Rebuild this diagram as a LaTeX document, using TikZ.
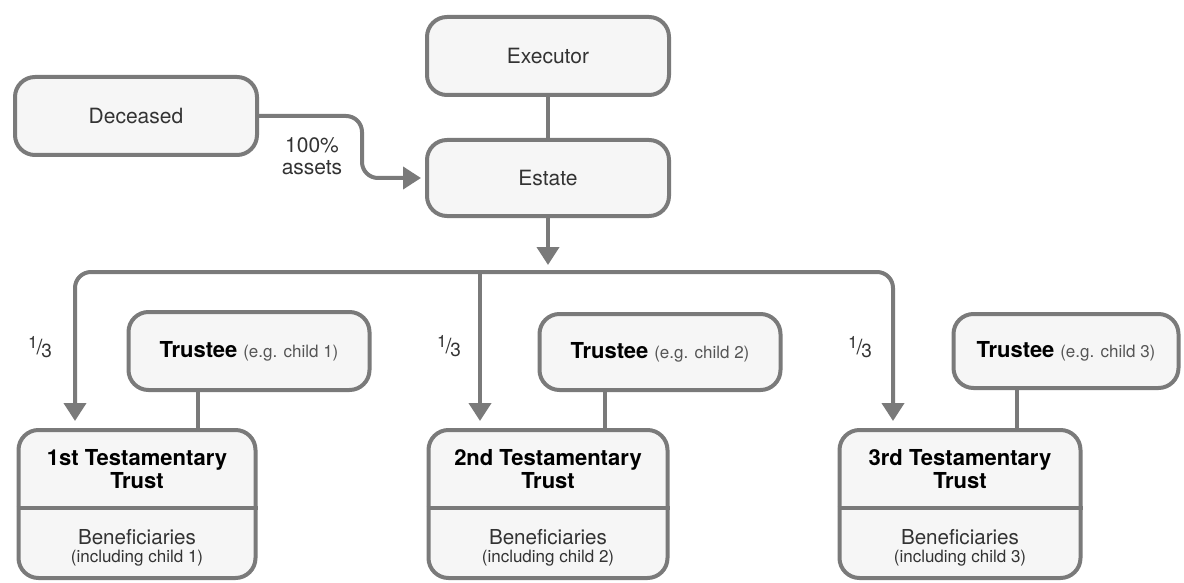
\documentclass[tikz,border=0pt]{standalone}
\usepackage{fontspec}
\setmainfont{TeX Gyre Heros}
\usetikzlibrary{arrows.meta, calc}

\definecolor{linegray}{HTML}{7A7A7A}
\definecolor{boxfill}{HTML}{F6F6F6}
\definecolor{textgray}{HTML}{333333}
\definecolor{notegray}{HTML}{555555}

\tikzset{
  box/.style={draw=linegray, fill=boxfill, line width=2pt, rounded corners=10pt,
    text=textgray, align=center, inner sep=0pt, font=\fontsize{10.5}{12}\selectfont},
  smallbox/.style={box, minimum width=121pt, minimum height=39pt},
  trustbox/.style={box, minimum height=74pt},
  link/.style={draw=linegray, line width=2pt},
  flow/.style={link, ->},
  title/.style={text=black, align=center, font=\fontsize{11}{11.5}\selectfont\bfseries},
  benef/.style={text=textgray, align=center, font=\fontsize{10.3}{9}\selectfont},
  share/.style={text=textgray, align=center, font=\fontsize{10.5}{11}\selectfont}
}
\newcommand{\trusteetext}[1]{{\fontsize{11}{12}\selectfont\bfseries\color{black}Trustee} {\fontsize{8.5}{9}\selectfont\color{notegray}(e.g. child #1)}}
\newcommand{\benefnote}[1]{{\fontsize{8.5}{9}\selectfont (including child #1)}}
\newcommand{\onethird}{\raisebox{0.55ex}{\fontsize{8.5}{9}\selectfont 1}\kern-0.5pt/\kern-0.5pt\raisebox{-0.3ex}{\fontsize{9.5}{10}\selectfont 3}}

\begin{document}
\begin{tikzpicture}[x=0.5pt, y=-0.5pt, >={Triangle[width=11pt,length=9pt]}]
\useasboundingbox (0,0) rectangle (1184,583);

% top boxes
\node[smallbox] (executor) at (548,56) {Executor};
\node[smallbox, minimum height=38pt] (estate) at (548,178) {Estate};
\node[smallbox] (deceased) at (136,116) {Deceased};

% trustees
\node[smallbox, minimum width=120.5pt] (trustee1) at (249,351) {\trusteetext{1}};
\node[smallbox, minimum width=120.5pt, minimum height=38pt] (trustee2) at (660,352) {\trusteetext{2}};
\node[smallbox, minimum width=112.5pt, minimum height=37pt] (trustee3) at (1066,351) {\trusteetext{3}};

% testamentary trusts
\node[trustbox, minimum width=118.5pt] (trust1) at (137,504) {};
\node[trustbox, minimum width=119.5pt] (trust2) at (548,504) {};
\node[trustbox, minimum width=120.5pt] (trust3) at (960,504) {};
\draw[link] (trust1.west |- 0,508) -- (trust1.east |- 0,508);
\draw[link] (trust2.west |- 0,508) -- (trust2.east |- 0,508);
\draw[link] (trust3.west |- 0,508) -- (trust3.east |- 0,508);
\node[title] (title1) at (137,469) {1st Testamentary\\Trust};
\node[title] (title2) at (548,469) {2nd Testamentary\\Trust};
\node[title] (title3) at (960,469) {3rd Testamentary\\Trust};
\node[benef] (benef1) at (137,548) {Beneficiaries\\\benefnote{1}};
\node[benef] (benef2) at (548,548) {Beneficiaries\\\benefnote{2}};
\node[benef] (benef3) at (960,548) {Beneficiaries\\\benefnote{3}};

% connectors
\draw[link] (executor) -- (estate);
\draw[flow, rounded corners=8pt, shorten >=2pt] (deceased.east) -- ++(103,0) |- (estate.west);
\node[share] (assets) at (312,156) {100\%\\assets};

\coordinate (bus) at (548,272);
\coordinate (in1) at (75,421);
\coordinate (in2) at (480,421);
\coordinate (in3) at (893,421);
\draw[flow, shorten >=3.5pt] (estate.south) -- (bus);
\draw[link, <->, rounded corners=8pt] (in1) |- (bus) -| (in3);
\draw[flow] (bus -| in2) -- (in2);

\node[share] (frac1) at (40,347) {\onethird};
\node[share] (frac2) at (449,346) {\onethird};
\node[share] (frac3) at (860,347) {\onethird};

\coordinate (tie1) at (198,0);
\coordinate (tie2) at (605,0);
\coordinate (tie3) at (1017,0);
\draw[link] (trustee1.south -| tie1) -- (trust1.north -| tie1);
\draw[link] (trustee2.south -| tie2) -- (trust2.north -| tie2);
\draw[link] (trustee3.south -| tie3) -- (trust3.north -| tie3);
\end{tikzpicture}
\end{document}
